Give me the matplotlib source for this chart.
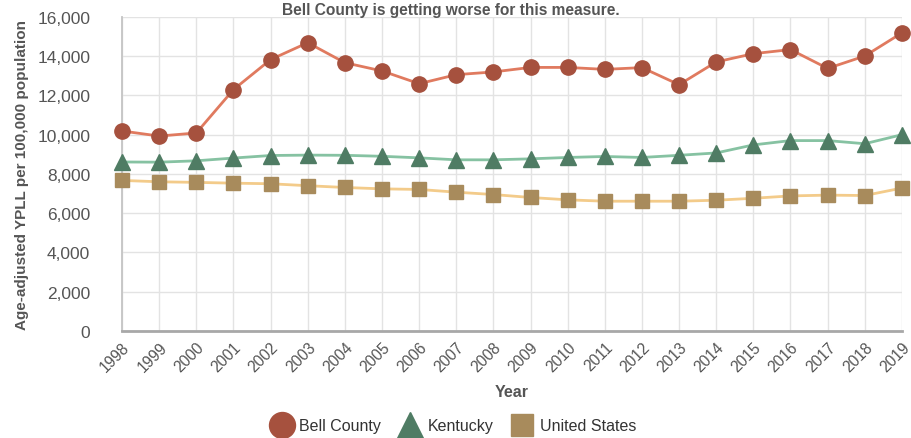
import matplotlib
matplotlib.use("Agg")
import matplotlib.pyplot as plt
from matplotlib.lines import Line2D

plt.rcParams['font.family'] = ['Liberation Sans', 'DejaVu Sans']

years = list(range(1998, 2020))
bell_county = [10190, 9930, 10090, 12300, 13830, 14690, 13670, 13250, 12600, 13060,
               13200, 13430, 13430, 13330, 13420, 12550, 13710, 14130, 14340, 13380,
               14010, 15190]
kentucky = [8610, 8600, 8670, 8810, 8940, 8960, 8950, 8900, 8820, 8720,
            8720, 8770, 8840, 8890, 8840, 8950, 9070, 9480, 9700, 9700,
            9540, 10000]
united_states = [7670, 7600, 7570, 7530, 7500, 7400, 7310, 7240, 7210, 7070,
                 6950, 6800, 6680, 6610, 6610, 6610, 6660, 6760, 6880, 6920,
                 6900, 7280]

y_ticks = [0, 2000, 4000, 6000, 8000, 10000, 12000, 14000, 16000]

series = [
    ('Bell County', bell_county, 'o', 11, '#a6513e', '#e07a5f'),
    ('Kentucky', kentucky, '^', 11, '#4f7c64', '#86c2a2'),
    ('United States', united_states, 's', 9.5, '#a88b5c', '#f3cb8a'),
]

text_color = '#555555'

fig = plt.figure(figsize=(9.11, 4.39), dpi=100)
ax = fig.add_axes([0.134, 0.244, 0.856, 0.715])

for name, vals, marker, ms, mcolor, lcolor in series:
    ax.plot(years, vals, color=lcolor, linewidth=2, zorder=2)
    ax.plot(years, vals, linestyle='none', marker=marker, markersize=ms,
            color=mcolor, zorder=3, clip_on=False)

ax.set_xlim(1998, 2019)
ax.set_ylim(0, 16000)
ax.set_xticks(years)
ax.set_xticklabels([str(y) for y in years], rotation=45, ha='right',
                   rotation_mode='anchor', fontsize=11.2, color=text_color)
ax.set_yticks(y_ticks)
ax.set_yticklabels([f'{v:,}' for v in y_ticks], fontsize=12.5, color=text_color)
ax.tick_params(axis='y', length=0, pad=23)
ax.tick_params(axis='x', length=0, pad=6)

ax.grid(True, color='#e3e3e3', linewidth=1)
ax.set_axisbelow(True)
for s in ['top', 'right']:
    ax.spines[s].set_visible(False)
ax.spines['left'].set_color('#c4c4c4')
ax.spines['left'].set_linewidth(1.3)
ax.spines['bottom'].set_color('#a8a8a8')
ax.spines['bottom'].set_linewidth(2)

ax.set_xlabel('Year', fontsize=11.5, fontweight='bold', color=text_color, labelpad=7)
ax.set_ylabel('Age-adjusted YPLL per 100,000 population', fontsize=11,
              fontweight='bold', color=text_color, labelpad=6)
fig.text(0.495, 0.976, 'Bell County is getting worse for this measure.',
         fontsize=11.2, fontweight='bold', color=text_color,
         ha='center', va='center')

handles = [Line2D([], [], linestyle='none', marker=m, markersize=ms * 1.7,
                  color=mc, label=n) for n, _, m, ms, mc, _ in series]
fig.legend(handles=handles, loc='lower center', bbox_to_anchor=(0.495, -0.022),
           ncol=3, frameon=False, fontsize=11.5, handletextpad=0.1,
           columnspacing=0.8, labelcolor='#333333')

fig.savefig('out.png', dpi=100)
